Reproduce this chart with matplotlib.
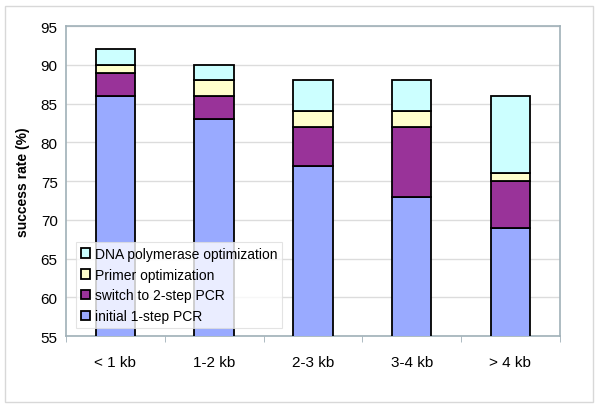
import matplotlib.pyplot as plt
from matplotlib.patches import Rectangle
import numpy as np

plt.rcParams['font.family'] = ['Liberation Sans', 'DejaVu Sans']

categories = ["< 1 kb", "1-2 kb", "2-3 kb", "3-4 kb", "> 4 kb"]
initial = [86, 83, 77, 73, 69]
switch = [3, 3, 5, 9, 6]
primer = [1, 2, 2, 2, 1]
polymerase = [2, 2, 4, 4, 10]

series = [
    ("initial 1-step PCR", initial, "#99aaff"),
    ("switch to 2-step PCR", switch, "#993399"),
    ("Primer optimization", primer, "#ffffcc"),
    ("DNA polymerase optimization", polymerase, "#ccffff"),
]

fig = plt.figure(figsize=(6, 4.1), dpi=100)
# light outer frame like the original chart area
fig.patches.append(Rectangle((5 / 600, 7 / 410), 588 / 600, 396 / 410,
                             transform=fig.transFigure, fill=False,
                             ec="#d8d8d8", lw=1))
ax = fig.add_axes([0.11, 0.178, 0.823, 0.756])

x = np.arange(len(categories))
bottom = np.zeros(len(categories))
handles = []
for label, vals, color in series:
    vals = np.array(vals, dtype=float)
    b = ax.bar(x, vals, bottom=bottom, width=0.4, color=color,
               edgecolor="black", linewidth=1.3, label=label, zorder=3)
    handles.append(b)
    bottom = bottom + vals

ax.set_ylim(55, 95)
ax.set_xlim(-0.5, len(categories) - 0.5)
ax.set_yticks(range(55, 96, 5))
ax.set_xticks(x)
ax.set_xticklabels(categories)
ax.set_xticks(np.arange(-0.5, len(categories), 1), minor=True)
ax.tick_params(axis="x", which="major", length=0, pad=14, labelsize=11)
ax.tick_params(axis="x", which="minor", length=4, color="#a0b0b8")
ax.tick_params(axis="y", length=0, pad=6, labelsize=11)
ax.yaxis.grid(True, color="#dcdcdc", lw=1, zorder=0)
for s in ax.spines.values():
    s.set_color("#a0b0b8")
    s.set_linewidth(1.2)
ax.set_ylabel("success rate (%)", fontweight="bold", fontsize=10, labelpad=8)

leg = ax.legend(handles[::-1], [s[0] for s in series][::-1],
                loc="lower left", bbox_to_anchor=(0.02, 0.025),
                fontsize=10, frameon=True, fancybox=False,
                handlelength=0.7, handleheight=0.7, handletextpad=0.3,
                labelspacing=0.5, borderpad=0.35, borderaxespad=0)
leg.get_frame().set_edgecolor("#dddddd")
leg.get_frame().set_linewidth(0.8)
leg.set_zorder(5)

fig.savefig("out.png", dpi=100)
